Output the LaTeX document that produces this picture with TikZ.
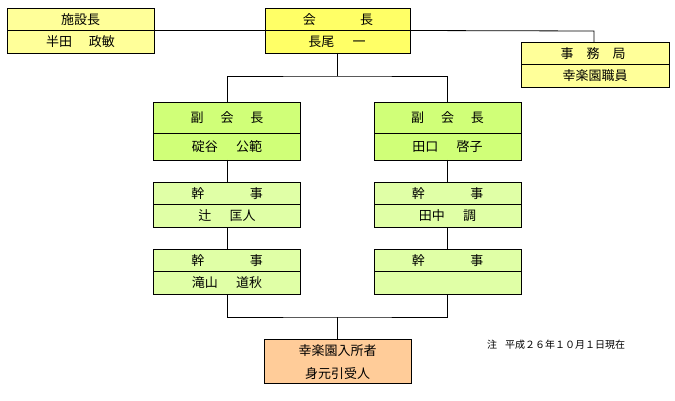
\documentclass[tikz,border=0pt]{standalone}
\usepackage{fontspec}
\setmainfont{Noto Sans CJK JP}
\definecolor{ylA}{HTML}{FFFF99}
\definecolor{ylB}{HTML}{FFFF66}
\definecolor{grA}{HTML}{D0FF78}
\definecolor{grB}{HTML}{E0FFA6}
\definecolor{orA}{HTML}{FFCC99}
\begin{document}
\begin{tikzpicture}[x=1pt,y=-1pt,
  box/.style={draw=black, line width=0.8pt, minimum width=147pt, inner sep=0pt, outer sep=0pt},
  lbl/.style={inner sep=0pt, font=\fontsize{13}{15}\selectfont},
  conn/.style={draw=black, line width=0.8pt}]
\useasboundingbox (0,0) rectangle (675,401);
% boxes
\node[box, fill=ylA, minimum height=45pt] (shisetsu) at (80.5,30.5) {};
\node[box, fill=ylB, minimum height=45pt, minimum width=145pt] (kaicho) at (337.5,30.5) {};
\node[box, fill=ylA, minimum height=45pt, minimum width=148pt] (jimu) at (595,64.5) {};
\node[box, fill=grA, minimum height=58pt] (vl) at (227,131) {};
\node[box, fill=grA, minimum height=58pt] (vr) at (447.5,131) {};
\node[box, fill=grB, minimum height=45pt] (k1l) at (227,204.5) {};
\node[box, fill=grB, minimum height=45pt] (k1r) at (447.5,204.5) {};
\node[box, fill=grB, minimum height=45pt] (k2l) at (227,271.5) {};
\node[box, fill=grB, minimum height=45pt] (k2r) at (447.5,271.5) {};
\node[box, fill=orA, minimum height=44pt] (nyu) at (337.5,361) {};
% dividers
\foreach \n in {shisetsu,kaicho,jimu,k1l,k1r,k2l,k2r} \draw[line width=0.8pt] (\n.west) -- (\n.east);
\foreach \n in {vl,vr} \draw[line width=0.8pt] ([yshift=-2pt]\n.west) -- ([yshift=-2pt]\n.east);
% texts
\node[lbl] (t1) at (80.5,19.5) {施設長};
\node[lbl] (t2) at (80.5,42) {半田\hspace{1.3em}政敏};
\node[lbl] (t3) at (338,19.5) {会\hspace{3.4em}長};
\node[lbl] (t4) at (337,42) {長尾\hspace{1.4em}一};
\node[lbl] (t5) at (593,53.5) {事\hspace{1em}務\hspace{1em}局};
\node[lbl] (t6) at (595,75.5) {幸楽園職員};
\node[lbl] (t7) at (227,117.5) {副\hspace{1.3em}会\hspace{1.3em}長};
\node[lbl] (t8) at (227,146.5) {碇谷\hspace{1.4em}公範};
\node[lbl] (t9) at (447.5,117.5) {副\hspace{1.3em}会\hspace{1.3em}長};
\node[lbl] (t10) at (447.5,146.5) {田口\hspace{1.4em}啓子};
\node[lbl] (t11) at (227,193.5) {幹\hspace{3.5em}事};
\node[lbl] (t12) at (227,215.5) {辻\hspace{1.4em}匡人};
\node[lbl] (t13) at (447.5,193.5) {幹\hspace{3.5em}事};
\node[lbl] (t14) at (447.5,215.5) {田中\hspace{1.4em}調};
\node[lbl] (t15) at (227,260.5) {幹\hspace{3.5em}事};
\node[lbl] (t16) at (227,283) {滝山\hspace{1.4em}道秋};
\node[lbl] (t17) at (447.5,260.5) {幹\hspace{3.5em}事};
\node[lbl] (t18) at (337.5,350.5) {幸楽園入所者};
\node[lbl] (t19) at (337.5,373.5) {身元引受人};
\node[inner sep=0pt, font=\fontsize{10}{12}\selectfont, anchor=west] (note) at (487,345) {注\hspace{0.8em}平成２６年１０月１日現在};
% connectors
\coordinate (jc) at (594,31);
\coordinate (m1) at (337.5,76);
\coordinate (m2) at (337.5,317);
\draw[conn] (shisetsu.east) -- (kaicho.west);
\draw[conn] (kaicho.east) -- (jc) -- (jimu.north -| jc);
\draw[conn] (kaicho.south) -- (m1);
\draw[conn] (vl.north) |- (m1) -| (vr.north);
\draw[conn] (vl.south) -- (k1l.north);
\draw[conn] (vr.south) -- (k1r.north);
\draw[conn] (k1l.south) -- (k2l.north);
\draw[conn] (k1r.south) -- (k2r.north);
\draw[conn] (k2l.south) |- (m2) -| (k2r.south);
\draw[conn] (m2) -- (nyu.north);
\end{tikzpicture}
\end{document}
